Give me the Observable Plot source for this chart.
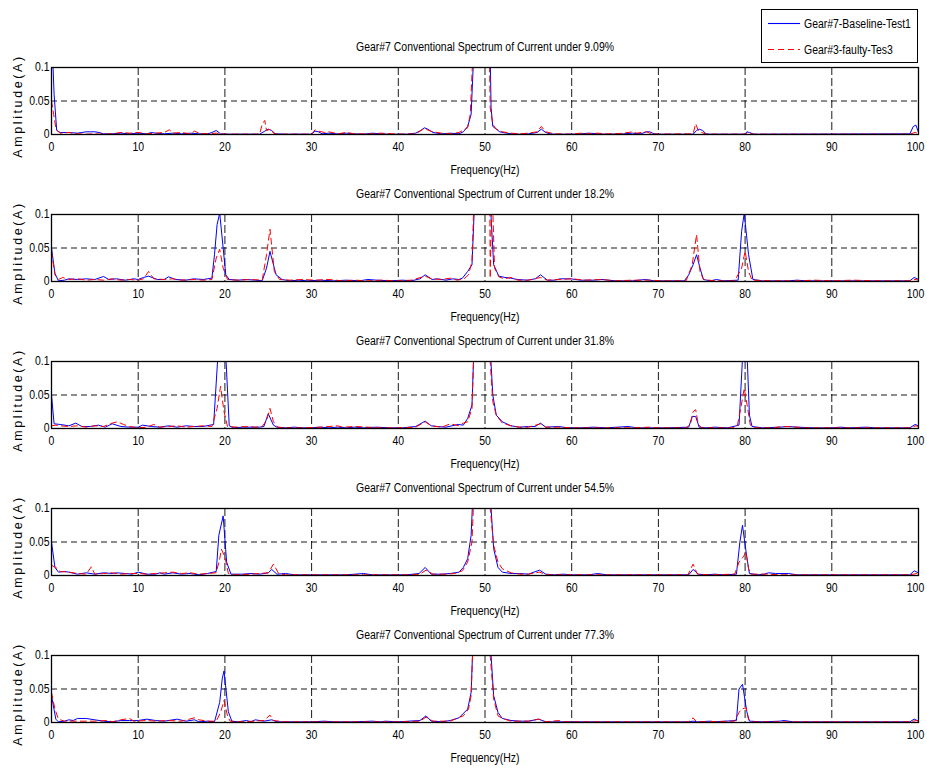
<!DOCTYPE html>
<html><head><meta charset="utf-8">
<script src="https://cdn.jsdelivr.net/npm/d3@7"></script>
<script src="https://cdn.jsdelivr.net/npm/@observablehq/plot@0.6"></script>
<style>
html,body{margin:0;padding:0;background:#fff;overflow:hidden;width:927px;height:768px}
#wrap{position:relative;width:927px;height:768px}
.panel{position:absolute;left:0}
#legend{position:absolute;left:761px;top:9px;z-index:5;overflow:visible}
</style></head><body><div id="wrap"></div>
<script>
const loads = ["9.09%","18.2%","31.8%","54.5%","77.3%"];
const seriesNames = ["Gear#7-Baseline-Test1","Gear#3-faulty-Tes3"];
const xTicks = [0,10,20,30,40,50,60,70,80,90,100];
const yTicks = [0,0.05,0.1];
const yTickLabels = ["0","0.05","0.1"];
const gridX = [10,20,30,40,50,60,70,80,90];
const gridY = [0.05];

const baseline1 = [[0,0.16],[0.3,0.06],[0.6,0.006],[1,0.003],[2,0.003],[3,0.002],[3.5,0.003],[4,0.004],[5,0.004],[5.5,0.003],[6,0.001],[7,0.001],[8,0.002],[9,0.001],[10,0.002],[11,0.001],[11.5,0.003],[12,0.002],[13,0.001],[14,0.002],[15,0.001],[16,0.002],[17,0.001],[18,0.001],[18.5,0.003],[19,0.006],[19.5,0.001],[20,0.0005],[22,0.0005],[24,0.0005],[24.6,0.005],[25,0.008],[25.4,0.006],[25.8,0.001],[27,0.0005],[30,0.0005],[30.4,0.005],[30.8,0.004],[31.2,0.001],[32,0.002],[33,0.001],[34,0.002],[35,0.001],[36,0.0005],[37,0.002],[38,0.001],[39,0.0005],[41,0.0005],[42,0.002],[42.6,0.006],[43,0.01],[43.4,0.008],[44,0.003],[45,0.001],[46,0.002],[47,0.001],[47.5,0.004],[48,0.012],[48.4,0.03],[48.8,0.15],[49.5,0.8],[50.3,0.8],[50.5,0.2],[50.7,0.04],[50.9,0.012],[51.7,0.004],[52.5,0.002],[53,0.001],[54,0.0005],[55,0.001],[56,0.003],[56.5,0.008],[57,0.003],[57.5,0.001],[58,0.0005],[60,0.0005],[61,0.001],[62,0.002],[63,0.001],[64,0.0005],[66,0.001],[67,0.002],[68,0.001],[68.6,0.004],[69,0.004],[69.5,0.001],[70,0.0005],[74,0.0005],[74.4,0.006],[74.7,0.008],[75.1,0.006],[75.5,0.001],[76,0.0005],[80,0.0005],[80.2,0.004],[80.5,0.003],[81,0.0005],[99,0.001],[99.4,0.012],[99.7,0.014],[100,0.003]];
const faulty1 = [[0,0.05],[0.25,0.03],[0.5,0.01],[0.8,0.004],[1,0.002],[2,0.003],[3,0.001],[4,0.0005],[5,0.001],[6,0.0005],[7,0.001],[8,0.003],[9,0.002],[10,0.003],[11,0.001],[12,0.002],[13,0.003],[13.6,0.007],[14,0.002],[15,0.003],[16,0.001],[16.5,0.005],[17,0.002],[18,0.001],[19,0.002],[20,0.0005],[24,0.0005],[24.3,0.015],[24.6,0.021],[24.8,0.006],[25.3,0.008],[25.6,0.002],[26,0.0005],[30,0.0005],[30.4,0.007],[30.8,0.005],[31.5,0.003],[32,0.004],[33,0.001],[34,0.003],[35,0.001],[37,0.001],[38,0.002],[40,0.0005],[42,0.001],[43,0.009],[43.5,0.006],[44,0.004],[45,0.002],[46,0.001],[47,0.003],[48,0.01],[48.3,0.03],[48.7,0.15],[49.5,0.8],[50.3,0.3],[50.6,0.04],[50.9,0.015],[51.3,0.008],[52,0.004],[53,0.002],[54,0.001],[55,0.002],[56,0.004],[56.5,0.012],[57,0.004],[58,0.001],[60,0.0005],[61,0.002],[62,0.001],[63,0.002],[64,0.001],[65,0.001],[66,0.002],[67,0.004],[67.5,0.002],[68,0.003],[68.6,0.004],[69,0.002],[70,0.0005],[74,0.001],[74.3,0.016],[74.6,0.006],[75,0.003],[75.5,0.0005],[80,0.0005],[80.3,0.003],[80.8,0.0005],[99,0.0005],[99.6,0.003],[100,0.002]];

const baseline2 = [[0,0.05],[0.4,0.012],[0.8,0.001],[1.5,0.002],[2,0.004],[3,0.003],[4,0.004],[5,0.003],[6,0.0075],[6.6,0.003],[7.5,0.004],[8.5,0.002],[9.5,0.004],[10,0.003],[10.6,0.006],[11.2,0.008],[12.2,0.003],[13,0.003],[13.5,0.007],[14.3,0.003],[15.5,0.002],[16.4,0.004],[17.5,0.003],[18.5,0.005],[18.8,0.04],[19.1,0.085],[19.4,0.102],[19.8,0.05],[20.1,0.01],[20.5,0.003],[21.5,0.002],[22.5,0.003],[23.5,0.002],[24.3,0.001],[24.8,0.02],[25.2,0.045],[25.9,0.01],[26.6,0.003],[27.5,0.001],[28.5,0.002],[29.5,0.001],[31,0.002],[32.5,0.001],[34,0.002],[35.5,0.001],[36.5,0.003],[37.5,0.002],[39,0.001],[40.5,0.002],[41.5,0.001],[42.5,0.004],[43.1,0.01],[43.9,0.003],[44.5,0.004],[45.5,0.002],[46.3,0.004],[47,0.003],[47.4,0.005],[48,0.015],[48.5,0.025],[48.9,0.15],[49.5,0.8],[50.3,0.8],[50.6,0.12],[51,0.025],[51.6,0.008],[52.3,0.006],[53,0.005],[53.7,0.003],[54.9,0.002],[55.8,0.004],[56.4,0.01],[57.2,0.002],[58,0.002],[58.7,0.004],[59.9,0.004],[61,0.002],[62.5,0.002],[63.5,0.003],[65,0.001],[67,0.001],[68.5,0.003],[69.5,0.001],[71,0.001],[73,0.001],[73.5,0.01],[74,0.025],[74.4,0.04],[74.8,0.02],[75.2,0.003],[76,0.001],[76.7,0.003],[77.5,0.001],[79.2,0.002],[79.6,0.075],[79.9,0.102],[80.4,0.04],[80.9,0.003],[82,0.001],[85,0.001],[86,0.002],[87,0.001],[92,0.001],[99,0.001],[99.5,0.006],[100,0.003]];
const faulty2 = [[0,0.045],[0.4,0.01],[0.8,0.003],[1.3,0.006],[2,0.003],[3,0.004],[4,0.002],[5,0.003],[6,0.002],[7,0.004],[8,0.002],[9,0.003],[10,0.002],[10.6,0.004],[11.2,0.015],[11.8,0.004],[13,0.003],[14,0.004],[15,0.002],[16.5,0.003],[17.5,0.002],[18.5,0.003],[19,0.035],[19.4,0.048],[19.8,0.02],[20.3,0.003],[21.5,0.002],[23,0.003],[24.3,0.002],[24.8,0.04],[25.2,0.078],[25.7,0.015],[26.3,0.003],[27.5,0.002],[29,0.003],[30.5,0.002],[32,0.003],[33.5,0.001],[35,0.002],[36.5,0.001],[38,0.002],[40,0.001],[41.5,0.002],[43.1,0.008],[43.8,0.004],[45,0.003],[46,0.005],[46.8,0.002],[47.6,0.004],[48.1,0.01],[48.5,0.03],[48.8,0.15],[49.5,0.8],[50.4,0.5],[50.6,0.005],[50.8,0.15],[51.1,0.02],[51.6,0.007],[52.2,0.004],[53,0.006],[53.8,0.002],[55,0.002],[56.4,0.006],[57.2,0.002],[58.5,0.003],[60,0.004],[61.5,0.002],[63.5,0.003],[65,0.001],[67,0.002],[69,0.002],[70.5,0.001],[73.2,0.001],[73.9,0.025],[74.4,0.07],[74.8,0.015],[75.2,0.003],[76.5,0.001],[78.8,0.001],[79.6,0.02],[80,0.045],[80.4,0.015],[80.8,0.002],[83,0.001],[86,0.001],[88,0.002],[90,0.001],[92.5,0.002],[95,0.001],[99,0.001],[99.6,0.003],[100,0.002]];

const baseline3 = [[0,0.05],[0.3,0.007],[1,0.006],[2,0.004],[2.8,0.008],[3.5,0.003],[4.5,0.003],[5.4,0.005],[6.2,0.002],[7,0.007],[8,0.003],[9,0.002],[10,0.002],[10.5,0.005],[11.5,0.003],[12.5,0.002],[13.5,0.004],[14.5,0.002],[15.5,0.004],[16.5,0.003],[17.5,0.003],[18.7,0.006],[19.2,0.11],[19.7,0.13],[20.1,0.11],[20.5,0.004],[21,0.001],[22,0.002],[23,0.002],[24,0.002],[24.5,0.003],[25,0.022],[25.6,0.005],[26,0.002],[27,0.001],[28,0.002],[29,0.001],[30,0.001],[31,0.002],[32,0.001],[33,0.002],[34,0.001],[35,0.002],[36,0.001],[37.5,0.002],[39,0.001],[40.5,0.001],[42,0.003],[43.1,0.011],[43.8,0.004],[44.5,0.003],[45.5,0.002],[46.9,0.006],[47.5,0.005],[48,0.015],[48.5,0.035],[48.8,0.15],[49.5,0.8],[50.3,0.8],[50.6,0.12],[50.9,0.05],[51.3,0.02],[52,0.01],[53,0.004],[54,0.002],[55,0.003],[55.8,0.003],[56.4,0.008],[57,0.002],[58.5,0.003],[59.5,0.001],[61,0.001],[62.5,0.002],[64,0.001],[66.5,0.003],[67.5,0.001],[69,0.001],[71,0.001],[73.5,0.002],[73.9,0.018],[74.3,0.018],[74.7,0.002],[75.5,0.001],[76.5,0.002],[78,0.001],[79.3,0.005],[79.6,0.08],[79.8,0.13],[80.2,0.12],[80.5,0.02],[80.8,0.003],[82,0.001],[84,0.002],[85,0.003],[86,0.002],[88,0.001],[90,0.001],[91,0.002],[92,0.001],[94,0.002],[95,0.001],[99,0.001],[99.6,0.006],[100,0.004]];
const faulty3 = [[0,0.004],[0.5,0.005],[1,0.004],[2,0.003],[3,0.004],[4,0.002],[5,0.004],[6,0.003],[7,0.008],[7.6,0.01],[8.3,0.006],[9,0.003],[10,0.001],[11,0.002],[11.8,0.006],[12.5,0.002],[13.5,0.003],[14.5,0.004],[15.5,0.002],[16.5,0.003],[17.5,0.004],[18.5,0.003],[19.1,0.03],[19.5,0.063],[19.9,0.025],[20.3,0.003],[21.5,0.002],[22.5,0.003],[23.5,0.002],[24.3,0.003],[24.8,0.012],[25.2,0.03],[25.6,0.01],[26.1,0.002],[27,0.001],[29,0.001],[31,0.002],[33,0.004],[33.6,0.002],[35,0.003],[36.5,0.002],[38,0.001],[40,0.001],[42,0.002],[43.1,0.01],[43.8,0.004],[45,0.002],[46,0.007],[47,0.004],[47.5,0.008],[48,0.01],[48.5,0.03],[48.8,0.15],[49.5,0.8],[50.3,0.8],[50.6,0.1],[50.9,0.04],[51.3,0.02],[52,0.008],[53,0.004],[54,0.002],[55,0.002],[56.4,0.007],[57,0.002],[58.5,0.002],[60,0.001],[62,0.001],[64,0.001],[67,0.001],[69,0.002],[70,0.001],[73.2,0.001],[73.7,0.006],[74,0.025],[74.3,0.028],[74.6,0.006],[75,0.001],[78.5,0.001],[79.1,0.004],[79.5,0.03],[79.9,0.06],[80.3,0.03],[80.6,0.005],[81,0.001],[83,0.001],[84.5,0.003],[86,0.002],[87,0.001],[90,0.001],[92,0.001],[95,0.001],[99,0.001],[99.7,0.004],[100,0.003]];

const baseline4 = [[0,0.05],[0.4,0.012],[0.8,0.005],[1.5,0.006],[2,0.005],[3,0.002],[4,0.004],[5,0.002],[6,0.004],[7,0.003],[7.5,0.004],[8.5,0.003],[9.3,0.002],[10,0.005],[11,0.002],[12,0.002],[12.5,0.004],[13,0.002],[14,0.004],[15,0.002],[16,0.003],[17,0.001],[18,0.003],[19,0.006],[19.3,0.06],[19.8,0.089],[20.2,0.02],[20.7,0.002],[22,0.002],[23,0.003],[24,0.002],[25,0.004],[25.4,0.009],[26,0.002],[27,0.003],[28,0.001],[30,0.001],[32,0.001],[34,0.001],[36,0.003],[37,0.001],[39,0.001],[41,0.001],[42.4,0.003],[43.1,0.012],[43.8,0.002],[45,0.002],[46,0.003],[47,0.005],[47.5,0.012],[48,0.025],[48.4,0.06],[48.7,0.15],[49.5,0.8],[50.3,0.8],[50.6,0.12],[51,0.04],[51.5,0.012],[52,0.005],[53,0.003],[54,0.003],[55,0.002],[56.3,0.008],[57,0.002],[58,0.001],[59,0.002],[60,0.001],[62,0.001],[63,0.003],[64,0.001],[67,0.001],[70,0.001],[73.5,0.001],[74,0.009],[74.6,0.002],[75.5,0.001],[76.5,0.002],[77.5,0.001],[79,0.002],[79.4,0.05],[79.7,0.075],[80.2,0.027],[80.5,0.003],[81.5,0.001],[82.2,0.002],[82.7,0.004],[83.5,0.003],[85,0.003],[86,0.001],[90,0.001],[95,0.001],[99,0.001],[99.5,0.007],[100,0.004]];
const faulty4 = [[0,0.015],[0.5,0.012],[1,0.006],[2,0.005],[3,0.003],[4,0.002],[4.6,0.013],[5,0.002],[6,0.003],[7,0.004],[8,0.002],[9,0.003],[10,0.003],[11,0.002],[12,0.003],[13,0.004],[14,0.005],[15,0.003],[16,0.004],[17,0.002],[18,0.003],[19,0.004],[19.4,0.025],[19.6,0.039],[20,0.028],[20.4,0.003],[21,0.001],[23,0.002],[25,0.004],[25.6,0.017],[26.2,0.003],[27,0.001],[29,0.001],[32,0.001],[35,0.001],[38,0.001],[41,0.001],[42.5,0.002],[43.2,0.008],[44,0.002],[45.5,0.002],[46.5,0.003],[47.4,0.007],[48,0.02],[48.5,0.05],[48.8,0.15],[49.5,0.8],[50.3,0.8],[50.6,0.1],[51,0.045],[51.5,0.02],[52,0.01],[53,0.004],[54,0.002],[55,0.002],[56.3,0.005],[57,0.001],[59,0.001],[62,0.001],[65,0.001],[70,0.001],[73.4,0.001],[74,0.017],[74.5,0.002],[76,0.001],[78.8,0.002],[79.3,0.02],[79.8,0.028],[80.1,0.035],[80.4,0.01],[80.7,0.002],[82.5,0.002],[84,0.001],[88,0.001],[95,0.001],[99,0.001],[99.8,0.003],[100,0.002]];

const baseline5 = [[0,0.04],[0.5,0.005],[0.8,0.001],[1.5,0.002],[2,0.004],[2.5,0.003],[3,0.006],[4,0.006],[5,0.004],[6,0.002],[7,0.001],[8,0.003],[9,0.003],[10,0.003],[11,0.005],[12,0.003],[13,0.002],[14.5,0.005],[15.5,0.002],[16.5,0.004],[17,0.001],[18,0.002],[18.8,0.001],[19.4,0.03],[19.7,0.066],[19.9,0.077],[20.4,0.016],[20.8,0.002],[21.5,0.001],[22.5,0.003],[23,0.001],[23.5,0.004],[24.5,0.002],[25.4,0.004],[26,0.001],[28,0.001],[30,0.001],[31.5,0.002],[32.5,0.001],[35,0.001],[37,0.002],[38,0.001],[38.5,0.002],[40,0.001],[42.5,0.003],[43.2,0.01],[43.8,0.002],[45,0.001],[46,0.003],[47,0.007],[48,0.02],[48.4,0.045],[48.7,0.15],[49.5,0.8],[50.3,0.8],[50.6,0.12],[51,0.04],[51.5,0.015],[52,0.006],[53,0.003],[54,0.002],[55,0.002],[56.2,0.005],[57,0.001],[60,0.001],[65,0.001],[70,0.001],[73.5,0.001],[74,0.002],[74.5,0.001],[76,0.002],[76.5,0.001],[79,0.003],[79.3,0.05],[79.7,0.057],[80.2,0.016],[80.5,0.002],[82,0.001],[84,0.002],[84.5,0.003],[85.5,0.001],[90,0.001],[95,0.001],[99,0.001],[99.5,0.005],[100,0.002]];
const faulty5 = [[0,0.045],[0.4,0.02],[0.8,0.005],[1.5,0.002],[3,0.002],[5,0.002],[6.5,0.003],[7,0.001],[8,0.004],[9,0.006],[9.5,0.002],[11,0.003],[12,0.002],[13.5,0.003],[15,0.002],[16.5,0.007],[17,0.004],[18,0.002],[19,0.002],[19.5,0.015],[19.9,0.033],[20.3,0.01],[20.6,0.002],[22,0.001],[24.5,0.003],[25.2,0.011],[25.6,0.003],[27,0.001],[30,0.001],[35,0.001],[40,0.001],[42.5,0.002],[43.2,0.008],[44,0.002],[46,0.002],[47.5,0.01],[48.1,0.02],[48.4,0.04],[48.7,0.15],[49.5,0.8],[50.3,0.8],[50.6,0.1],[51,0.035],[51.5,0.01],[52,0.006],[53,0.002],[55,0.002],[56.2,0.005],[57,0.001],[58.5,0.003],[59,0.001],[65,0.001],[70,0.001],[73.5,0.001],[74,0.007],[74.4,0.001],[78.8,0.002],[79.3,0.015],[79.6,0.02],[80.1,0.022],[80.4,0.004],[81,0.001],[90,0.001],[99,0.001],[99.8,0.003],[100,0.002]];

const baselines = [baseline1, baseline2, baseline3, baseline4, baseline5];
const faults = [faulty1, faulty2, faulty3, faulty4, faulty5];

const SANS = '"Liberation Sans",Arial,sans-serif';
const wrap = document.getElementById("wrap");
const toRows = arr => arr.map(([f, a]) => ({f, a}));
const YLABEL = "Amplitude(A)";
const charts = [];

loads.forEach((load, i) => {
  const chart = Plot.plot({
    width: 927, height: 142,
    marginTop: 30, marginBottom: 45, marginLeft: 51, marginRight: 9,
    style: {fontFamily: SANS, fontSize: "12px", color: "#000", background: "transparent", overflow: "visible"},
    x: {domain: [0, 100]},
    y: {domain: [0, 0.1]},
    marks: [
      Plot.ruleX(gridX, {stroke: "#000", strokeWidth: 0.9, strokeDasharray: "8,3"}),
      Plot.ruleY(gridY, {stroke: "#000", strokeWidth: 0.9, strokeDasharray: "6,4"}),
      Plot.line(toRows(baselines[i]), {x: "f", y: "a", stroke: "#0000ff", strokeWidth: 1, clip: true}),
      Plot.line(toRows(faults[i]), {x: "f", y: "a", stroke: "#ff0000", strokeWidth: 1, strokeDasharray: "6,4", clip: true}),
      Plot.frame({stroke: "#000", strokeWidth: 1.3}),
      Plot.axisX(xTicks, {tickSize: 0, tickPadding: 8, label: null, fontSize: 12}),
      Plot.axisY(yTicks, {tickSize: 0, tickPadding: 2, label: null, fontSize: 12, tickFormat: d => yTickLabels[yTicks.indexOf(d)]}),
      Plot.text([`Gear#7 Conventional Spectrum of Current under ${load}`], {text: d => d, frameAnchor: "top", lineAnchor: "middle", dy: -20, fontSize: 12, fill: "#000"}),
      Plot.text(["Frequency(Hz)"], {text: d => d, frameAnchor: "bottom", lineAnchor: "middle", dy: 36, fontSize: 12, fill: "#000"}),
      Plot.text([YLABEL], {text: d => d, frameAnchor: "left", dx: -34, dy: 5, rotate: -90, textAnchor: "middle", lineAnchor: "middle", fontSize: 12.5, fill: "#000"})
    ]
  });
  chart.classList.add("panel");
  chart.style.top = (37 + 147 * i) + "px";
  wrap.appendChild(chart);
  charts.push(chart);
});

// legend
const leg = d3.create("svg").attr("id", "legend").attr("width", 166).attr("height", 55)
  .style("font-family", SANS).style("font-size", "12px");
leg.append("rect").attr("x", 0.5).attr("y", 0.5).attr("width", 156).attr("height", 53)
  .style("fill", "#fff").style("stroke", "#000").style("stroke-width", "1");
const legStyles = [{stroke: "#0000ff", dash: "none"}, {stroke: "#ff0000", dash: "6,4"}];
seriesNames.forEach((name, k) => {
  const y = 14.5 + k * 26;
  leg.append("path").attr("d", `M7,${y}H39`)
    .style("fill", "none").style("stroke", legStyles[k].stroke).style("stroke-width", "1.1")
    .style("stroke-dasharray", legStyles[k].dash);
  leg.append("text").attr("x", 43).attr("y", y).attr("dy", "0.35em").style("fill", "#000").text(name);
});
wrap.appendChild(leg.node());

// condense the text horizontally to mimic the narrow font of the original
const allTexts = [];
charts.forEach(c => c.querySelectorAll("text").forEach(t => allTexts.push(t)));
leg.node().querySelectorAll("text").forEach(t => allTexts.push(t));
const title1 = allTexts.find(t => t.textContent.startsWith("Gear#7 Conventional"));
const factor = Math.min(1, 258 / title1.getComputedTextLength());
allTexts.forEach(t => {
  if (t.textContent === YLABEL) {
    t.style.letterSpacing = "2.6px";
    return;
  }
  const len = t.getComputedTextLength();
  if (len > 0) {
    t.setAttribute("textLength", (len * factor).toFixed(2));
    t.setAttribute("lengthAdjust", "spacingAndGlyphs");
  }
  if (t.textContent === "100") t.setAttribute("dx", "-3");
});
</script>
</body></html>
